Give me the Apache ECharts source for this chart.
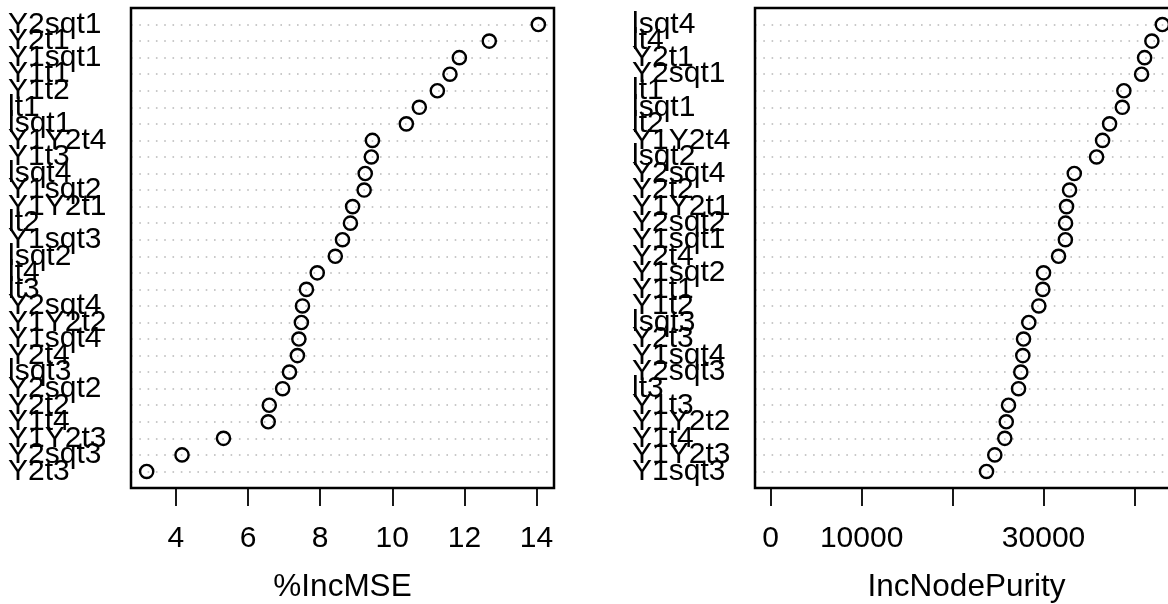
<!DOCTYPE html>
<html>
<head>
<meta charset="utf-8">
<script src="https://cdn.jsdelivr.net/npm/echarts@6/dist/echarts.min.js"></script>
<style>
html,body{margin:0;padding:0;background:#fff;}
#chart{width:1168px;height:604px;}
</style>
</head>
<body>
<div id="chart"></div>
<script>
// ---- data (top-to-bottom order as displayed) ----
const mseLabels = ["Y2sqt1","Y2t1","Y1sqt1","Y1t1","Y1t2","lt1","lsqt1","Y1Y2t4","Y1t3","lsqt4","Y1sqt2","Y1Y2t1","lt2","Y1sqt3","lsqt2","lt4","lt3","Y2sqt4","Y1Y2t2","Y1sqt4","Y2t4","lsqt3","Y2sqt2","Y2t2","Y1t4","Y1Y2t3","Y2sqt3","Y2t3"];
const mseValues = [14.05,12.69,11.86,11.60,11.25,10.75,10.39,9.45,9.42,9.25,9.22,8.90,8.84,8.62,8.42,7.92,7.62,7.51,7.48,7.41,7.37,7.15,6.96,6.59,6.56,5.32,4.17,3.19];
const purityLabels = ["lsqt4","lt4","Y2t1","Y2sqt1","lt1","lsqt1","lt2","Y1Y2t4","lsqt2","Y2sqt4","Y2t2","Y1Y2t1","Y2sqt2","Y1sqt1","Y2t4","Y1sqt2","Y1t1","Y1t2","lsqt3","Y2t3","Y1sqt4","Y2sqt3","lt3","Y1t3","Y1Y2t2","Y1t4","Y1Y2t3","Y1sqt3"];
const purityValues = [43060,41910,41110,40780,38830,38660,37260,36490,35830,33380,32860,32530,32420,32400,31650,30000,29920,29480,28380,27800,27720,27500,27250,26150,25900,25740,24640,23730];
const mseTicks = [4,6,8,10,12,14];
const mseTickLabels = [4,6,8,10,12,14];
const purityTicks = [0,10000,20000,30000,40000];
const purityTickLabels = [0,10000,30000];

const FONT = '"Liberation Sans", Arial, Helvetica, sans-serif';
const n = mseLabels.length;

function xRange(vals, fromZero) {
  const lo = fromZero ? 0 : Math.min(...vals);
  const hi = Math.max(...vals);
  const pad = (hi - lo) * 0.04;
  return [lo - pad, hi + pad];
}

function yAxisFor(gridIndex, labels) {
  return {
    type: 'value', gridIndex: gridIndex, min: 0, max: n + 1, interval: 1,
    axisLine: {show: false}, axisTick: {show: false},
    splitLine: {show: true, lineStyle: {color: '#b8b8b8', width: 1.5, type: [1.6, 6.7]}},
    axisLabel: {
      margin: 123, align: 'left', fontSize: 30, color: '#000', fontFamily: FONT,
      formatter: function (v) { const i = n - v; return (i >= 0 && i < n) ? labels[i] : ''; }
    }
  };
}

function xAxisFor(gridIndex, range, ticks, tickLabels, name) {
  return {
    type: 'value', gridIndex: gridIndex, min: range[0], max: range[1],
    name: name, nameLocation: 'middle', nameGap: 83,
    nameTextStyle: {fontSize: 31.5, color: '#000', fontFamily: FONT},
    axisLine: {show: false}, splitLine: {show: false},
    axisTick: {show: true, customValues: ticks, length: 18, lineStyle: {color: '#000', width: 1.8}},
    axisLabel: {show: true, customValues: tickLabels, margin: 36, fontSize: 30, color: '#000', fontFamily: FONT,
      formatter: function (v) { return String(v); }}
  };
}

function pts(vals) { return vals.map((v, i) => [v, n - i]); }

const gridBase = {top: 8, width: 423, height: 480, show: true, borderColor: '#000', borderWidth: 2.5,
  backgroundColor: 'transparent', z: 5, containLabel: false, outerBoundsMode: 'none'};

const chart = echarts.init(document.getElementById('chart'), null, {renderer: 'canvas'});
chart.setOption({
  animation: false,
  backgroundColor: '#fff',
  grid: [
    Object.assign({left: 131}, gridBase),
    Object.assign({left: 755}, gridBase)
  ],
  xAxis: [
    xAxisFor(0, xRange(mseValues, false), mseTicks, mseTickLabels, '%IncMSE'),
    xAxisFor(1, xRange(purityValues, true), purityTicks, purityTickLabels, 'IncNodePurity')
  ],
  yAxis: [yAxisFor(0, mseLabels), yAxisFor(1, purityLabels)],
  series: [
    {type: 'scatter', xAxisIndex: 0, yAxisIndex: 0, data: pts(mseValues), symbol: 'circle', symbolSize: 13.2,
     itemStyle: {color: 'rgba(0,0,0,0)', borderColor: '#000', borderWidth: 2.4, opacity: 1}, emphasis: {disabled: true}, z: 6},
    {type: 'scatter', xAxisIndex: 1, yAxisIndex: 1, data: pts(purityValues), symbol: 'circle', symbolSize: 13.2,
     itemStyle: {color: 'rgba(0,0,0,0)', borderColor: '#000', borderWidth: 2.4, opacity: 1}, emphasis: {disabled: true}, z: 6}
  ]
});
</script>
</body>
</html>
